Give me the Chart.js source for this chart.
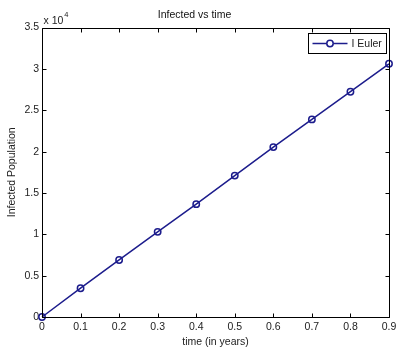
<!DOCTYPE html>
<html><head><meta charset="utf-8">
<script src="https://cdn.jsdelivr.net/npm/chart.js@4/dist/chart.umd.min.js"></script>
<style>html,body{margin:0;padding:0;background:#fff}#wrap{width:396px;height:348px}</style>
</head><body><div id="wrap"><canvas id="c" width="396" height="348"></canvas></div>
<script>
// ---- data ----
const timeYears = [0, 0.1, 0.2, 0.3, 0.4, 0.5, 0.6, 0.7, 0.8, 0.9];
const infectedEuler = [0, 3480, 6900, 10300, 13650, 17100, 20550, 23900, 27250, 30620];
const seriesLabel = 'I Euler';
const chartTitle = 'Infected vs time';
const xAxisTitle = 'time (in years)';
const yAxisTitle = 'Infected Population';
const yExponent = 4;

const FONT = "'Liberation Sans', Arial, sans-serif";
const TXT = '#222';
const LINE = '#1c1c8c';
const f = (size) => ({family: FONT, size: size, weight: 'normal'});

const matlabFrame = {
  id: 'matlabFrame',
  afterDraw(chart) {
    const ctx = chart.ctx, ca = chart.chartArea;
    const xs = chart.scales.x, ys = chart.scales.y;
    const L = Math.round(ca.left) + 0.5, R = Math.round(ca.right) + 0.5;
    const T = Math.round(ca.top) + 0.5, B = Math.round(ca.bottom) + 0.5;
    ctx.save();
    ctx.strokeStyle = '#000';
    ctx.lineWidth = 1;
    ctx.beginPath();
    ctx.rect(L, T, R - L, B - T);
    const tl = 4;
    xs.ticks.forEach(t => {
      const px = Math.round(xs.getPixelForValue(t.value)) + 0.5;
      ctx.moveTo(px, B); ctx.lineTo(px, B - tl);
      ctx.moveTo(px, T); ctx.lineTo(px, T + tl);
    });
    ys.ticks.forEach(t => {
      const py = Math.round(ys.getPixelForValue(t.value)) + 0.5;
      ctx.moveTo(L, py); ctx.lineTo(L + tl, py);
      ctx.moveTo(R, py); ctx.lineTo(R - tl, py);
    });
    ctx.stroke();

    // exponent label
    ctx.fillStyle = TXT;
    ctx.textBaseline = 'alphabetic';
    ctx.textAlign = 'left';
    ctx.font = "10.5px " + FONT;
    const base = 'x 10';
    ctx.fillText(base, L + 1, T - 5);
    const w = ctx.measureText(base).width;
    ctx.font = "7.5px " + FONT;
    ctx.fillText(String(yExponent), L + 1 + w + 1, T - 12);

    // legend box
    const ds = chart.data.datasets[0];
    const bw = 78, bh = 20;
    const bx = Math.round(ca.right) - 81 + 0.5, by = Math.round(ca.top) + 5 + 0.5;
    ctx.fillStyle = '#fff';
    ctx.fillRect(bx, by, bw, bh);
    ctx.strokeStyle = '#000';
    ctx.strokeRect(bx, by, bw, bh);
    const cy = by + bh / 2;
    ctx.strokeStyle = ds.borderColor;
    ctx.lineWidth = ds.borderWidth;
    ctx.beginPath();
    ctx.moveTo(bx + 4, cy); ctx.lineTo(bx + 39, cy);
    ctx.stroke();
    ctx.beginPath();
    ctx.arc(bx + 21.5, cy, ds.pointRadius, 0, Math.PI * 2);
    ctx.fillStyle = '#fff';
    ctx.fill();
    ctx.stroke();
    ctx.fillStyle = TXT;
    ctx.font = "10.5px " + FONT;
    ctx.textBaseline = 'middle';
    ctx.fillText(ds.label, bx + 43, cy + 0.5);
    ctx.restore();
  }
};

new Chart(document.getElementById('c'), {
  type: 'line',
  data: {
    datasets: [{
      label: seriesLabel,
      data: timeYears.map((t, i) => ({x: t, y: infectedEuler[i]})),
      borderColor: LINE,
      borderWidth: 1.5,
      pointStyle: 'circle',
      pointRadius: 3.2,
      pointBorderWidth: 1.5,
      pointBorderColor: LINE,
      pointBackgroundColor: 'rgba(255,255,255,0)',
      tension: 0,
      fill: false,
      clip: false
    }]
  },
  options: {
    responsive: false,
    animation: false,
    devicePixelRatio: 1,
    layout: {padding: {left: 0, right: 7, top: 0, bottom: 0}},
    plugins: {
      legend: {display: false},
      tooltip: {enabled: false},
      title: {display: true, text: chartTitle, color: '#111', font: f(10.5), padding: {top: 9, bottom: 6}}
    },
    scales: {
      x: {
        type: 'linear', min: 0, max: 0.9,
        border: {display: false},
        grid: {display: false, drawTicks: false},
        ticks: {stepSize: 0.1, padding: 4, color: TXT, font: f(10.5), maxRotation: 0, autoSkip: false,
          callback: v => String(Math.round(v * 10) / 10)},
        title: {display: true, text: xAxisTitle, color: TXT, font: f(10.5), padding: {top: 0, bottom: 0}},
        afterFit(s) { s.height = 31; s.paddingLeft = 0; s.paddingRight = 0; }
      },
      y: {
        min: 0, max: 35000,
        border: {display: false},
        grid: {display: false, drawTicks: false},
        ticks: {stepSize: 5000, padding: 3, color: TXT, font: f(10.5),
          callback: v => String(Math.round(v / 1000) / 10)},
        title: {display: true, text: yAxisTitle, color: TXT, font: f(10.5), padding: {top: 6, bottom: 0}},
        afterFit(s) { s.width = 42; s.paddingTop = 0; s.paddingBottom = 0; }
      }
    }
  },
  plugins: [matlabFrame]
});
</script></body></html>
